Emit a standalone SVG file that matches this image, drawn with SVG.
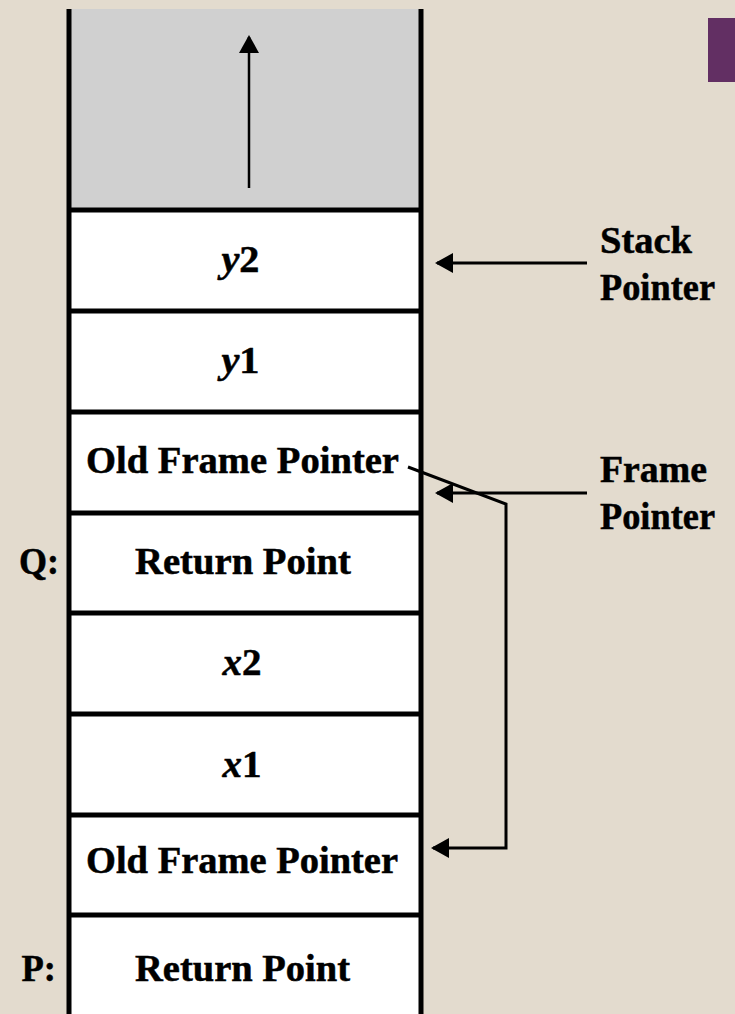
<svg xmlns="http://www.w3.org/2000/svg" width="735" height="1014" viewBox="0 0 735 1014">
  <style>
    .bg { fill: #E3DBCE; }
    .cell { fill: #FFFFFF; }
    .free { fill: #D0D0D0; }
    .wall { stroke: #000; stroke-width: 5; fill: none; }
    .div { stroke: #000; stroke-width: 5; fill: none; }
    .conn { stroke: #000; stroke-width: 3; fill: none; }
    .t { font-family: "Liberation Serif", "Times New Roman", serif; font-weight: bold; font-size: 37px; fill: #000; stroke: #000; stroke-width: 0.5px; }
    .it { font-style: italic; }
  </style>
  <defs>
    <marker id="arrow" markerUnits="userSpaceOnUse" markerWidth="18" markerHeight="20" viewBox="0 0 18 20" refX="16" refY="10" orient="auto">
      <path d="M0,0 L18,10 L0,20 z" fill="#000"/>
    </marker>
  </defs>

  <rect class="bg" x="0" y="0" width="735" height="1014"/>
  <rect x="708" y="18" width="27" height="64" fill="#622F63"/>

  <g id="stack">
    <g id="free-space">
      <rect class="free" x="69" y="9" width="352" height="201"/>
    </g>
    <g id="cell-y2">
      <rect class="cell" x="69" y="210" width="352" height="101"/>
      <text class="t" x="221.5" y="272" textLength="38" lengthAdjust="spacingAndGlyphs"><tspan class="it">y</tspan>2</text>
    </g>
    <g id="cell-y1">
      <rect class="cell" x="69" y="311" width="352" height="101"/>
      <text class="t" x="221.5" y="373" textLength="38" lengthAdjust="spacingAndGlyphs"><tspan class="it">y</tspan>1</text>
    </g>
    <g id="cell-ofp2">
      <rect class="cell" x="69" y="412" width="352" height="101"/>
      <text class="t" x="86" y="473" textLength="313" lengthAdjust="spacingAndGlyphs">Old Frame Pointer</text>
    </g>
    <g id="cell-rp-q">
      <rect class="cell" x="69" y="513" width="352" height="100"/>
      <text class="t" x="135" y="574" textLength="216" lengthAdjust="spacingAndGlyphs">Return Point</text>
    </g>
    <g id="cell-x2">
      <rect class="cell" x="69" y="613" width="352" height="101"/>
      <text class="t" x="222.5" y="675" textLength="39" lengthAdjust="spacingAndGlyphs"><tspan class="it">x</tspan>2</text>
    </g>
    <g id="cell-x1">
      <rect class="cell" x="69" y="714" width="352" height="101"/>
      <text class="t" x="222.5" y="776.5" textLength="39" lengthAdjust="spacingAndGlyphs"><tspan class="it">x</tspan>1</text>
    </g>
    <g id="cell-ofp1">
      <rect class="cell" x="69" y="815" width="352" height="100"/>
      <text class="t" x="86" y="873" textLength="312" lengthAdjust="spacingAndGlyphs">Old Frame Pointer</text>
    </g>
    <g id="cell-rp-p">
      <rect class="cell" x="69" y="915" width="352" height="99"/>
      <text class="t" x="135" y="981" textLength="215" lengthAdjust="spacingAndGlyphs">Return Point</text>
    </g>
    <g id="frame-lines">
      <path class="div" d="M69,210 H421 M69,311 H421 M69,412 H421 M69,513 H421 M69,613 H421 M69,714 H421 M69,815 H421 M69,915 H421"/>
      <path class="wall" d="M69,9 V1014 M421,9 V1014"/>
    </g>
  </g>

  <g id="label-q">
    <text class="t" x="19" y="573.5" textLength="40" lengthAdjust="spacingAndGlyphs">Q:</text>
  </g>
  <g id="label-p">
    <text class="t" x="21.5" y="981" textLength="34.5" lengthAdjust="spacingAndGlyphs">P:</text>
  </g>
  <g id="label-stack-pointer">
    <text class="t" x="600" y="253" textLength="92" lengthAdjust="spacingAndGlyphs">Stack</text>
    <text class="t" x="600" y="300" textLength="115" lengthAdjust="spacingAndGlyphs">Pointer</text>
  </g>
  <g id="label-frame-pointer">
    <text class="t" x="600" y="482" textLength="107" lengthAdjust="spacingAndGlyphs">Frame</text>
    <text class="t" x="600" y="528.5" textLength="115" lengthAdjust="spacingAndGlyphs">Pointer</text>
  </g>

  <g id="connectors">
    <line class="conn" x1="249" y1="188" x2="249" y2="37" marker-end="url(#arrow)" style="stroke-width:2.5"/>
    <line class="conn" x1="587" y1="263" x2="437" y2="263" marker-end="url(#arrow)"/>
    <line class="conn" x1="587" y1="493" x2="437" y2="493" marker-end="url(#arrow)"/>
    <polyline class="conn" points="408,467 506,504 506,848 433,848" marker-end="url(#arrow)"/>
  </g>
</svg>
